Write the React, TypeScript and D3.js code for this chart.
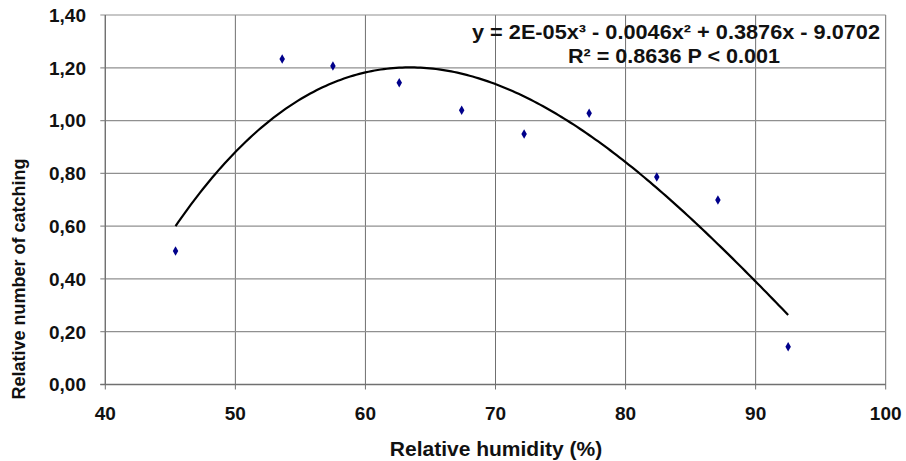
import React from "react";
import * as d3 from "d3";

const humidity = [45.4, 53.6, 57.5, 62.6, 67.4, 72.2, 77.2, 82.4, 87.1, 92.5];
const catching = [0.506, 1.233, 1.207, 1.143, 1.039, 0.949, 1.028, 0.786, 0.699, 0.143];
const xTicks = [40, 50, 60, 70, 80, 90, 100];
const yTicks = [0, 0.2, 0.4, 0.6, 0.8, 1.0, 1.2, 1.4];
const equationLine1 = "y = 2E-05x³ - 0.0046x² + 0.3876x  - 9.0702";
const equationLine2 = "R² = 0.8636 P < 0.001";
const xTitle = "Relative humidity (%)";
const yTitle = "Relative number of catching";

// least-squares cubic fit of the data (trendline)
function cubicFit(xs: number[], ys: number[]): number[] {
  const n = 4;
  const A: number[][] = Array.from({ length: n }, () => Array(n + 1).fill(0));
  for (let k = 0; k < xs.length; k++) {
    const p = [1, xs[k], xs[k] ** 2, xs[k] ** 3];
    for (let i = 0; i < n; i++) {
      for (let j = 0; j < n; j++) A[i][j] += p[i] * p[j];
      A[i][n] += p[i] * ys[k];
    }
  }
  for (let i = 0; i < n; i++) {
    let m = i;
    for (let r = i + 1; r < n; r++) if (Math.abs(A[r][i]) > Math.abs(A[m][i])) m = r;
    [A[i], A[m]] = [A[m], A[i]];
    for (let r = 0; r < n; r++) {
      if (r === i) continue;
      const f = A[r][i] / A[i][i];
      for (let c = i; c <= n; c++) A[r][c] -= f * A[i][c];
    }
  }
  return A.map((row, i) => row[n] / row[i]);
}

export default function App() {
  const W = 906, H = 461;
  const x = d3.scaleLinear().domain([40, 100]).range([105.3, 885.7]);
  const y = d3.scaleLinear().domain([0, 1.4]).range([384.5, 15]);
  const coef = cubicFit(humidity, catching);
  const f = (v: number) => coef[0] + coef[1] * v + coef[2] * v * v + coef[3] * v * v * v;
  const xmin = d3.min(humidity)!, xmax = d3.max(humidity)!;
  const curvePts = d3.range(0, 201).map((i) => {
    const v = xmin + ((xmax - xmin) * i) / 200;
    return [x(v), y(f(v))] as [number, number];
  });
  const line = d3.line().curve(d3.curveLinear)(curvePts)!;
  const fmt = (v: number) => v.toFixed(2).replace(".", ",");
  const font = "'Liberation Sans', Arial, sans-serif";
  const [x0, x1] = x.range();
  const [y0, y1] = y.range();
  const diamond = d3.symbol().type(d3.symbolDiamond).size(26)()!;

  return (
    <svg width={W} height={H} style={{ position: "absolute", left: 0, top: 0 }} fontFamily={font}>
      <rect x={0} y={0} width={W} height={H} fill="#fff" />
      {xTicks.map((t) => (
        <line key={"gx" + t} x1={x(t)} x2={x(t)} y1={y1} y2={y0 + 5} stroke="#707070" strokeWidth={1} />
      ))}
      {yTicks.map((t) => (
        <line key={"gy" + t} x1={x0 - 5} x2={x1} y1={y(t)} y2={y(t)} stroke="#909090" strokeWidth={1.2} />
      ))}
      <line x1={x0} x2={x0} y1={y1} y2={y0} stroke="#707070" strokeWidth={1.2} />
      <line x1={x0 - 5} x2={x1} y1={y0} y2={y0} stroke="#707070" strokeWidth={1.5} />
      {yTicks.map((t) => (
        <text key={"ty" + t} x={86} y={y(t)} dy="0.36em" textAnchor="end" fontSize={19} fontWeight="bold" fill="#111">
          {fmt(t)}
        </text>
      ))}
      {xTicks.map((t) => (
        <text key={"tx" + t} x={x(t)} y={420} textAnchor="middle" fontSize={19} fontWeight="bold" fill="#111">
          {t}
        </text>
      ))}
      <text x={496} y={456} textAnchor="middle" fontSize={21} fontWeight="bold" fill="#111">
        {xTitle}
      </text>
      <text transform={`translate(25,${279}) rotate(-90)`} textAnchor="middle" fontSize={18} fontWeight="bold" fill="#111">
        {yTitle}
      </text>
      <path d={line} fill="none" stroke="#000" strokeWidth={2.2} />
      {humidity.map((h, i) => (
        <path key={"p" + i} d={diamond} transform={`translate(${x(h)},${y(catching[i])})`} fill="#00008b" />
      ))}
      <text x={676} y={39} textAnchor="middle" fontSize={20} fontWeight="bold" fill="#111" textLength={408} lengthAdjust="spacingAndGlyphs">
        {equationLine1}
      </text>
      <text x={674} y={63} textAnchor="middle" fontSize={20} fontWeight="bold" fill="#111" textLength={212} lengthAdjust="spacingAndGlyphs">
        {equationLine2}
      </text>
    </svg>
  );
}
